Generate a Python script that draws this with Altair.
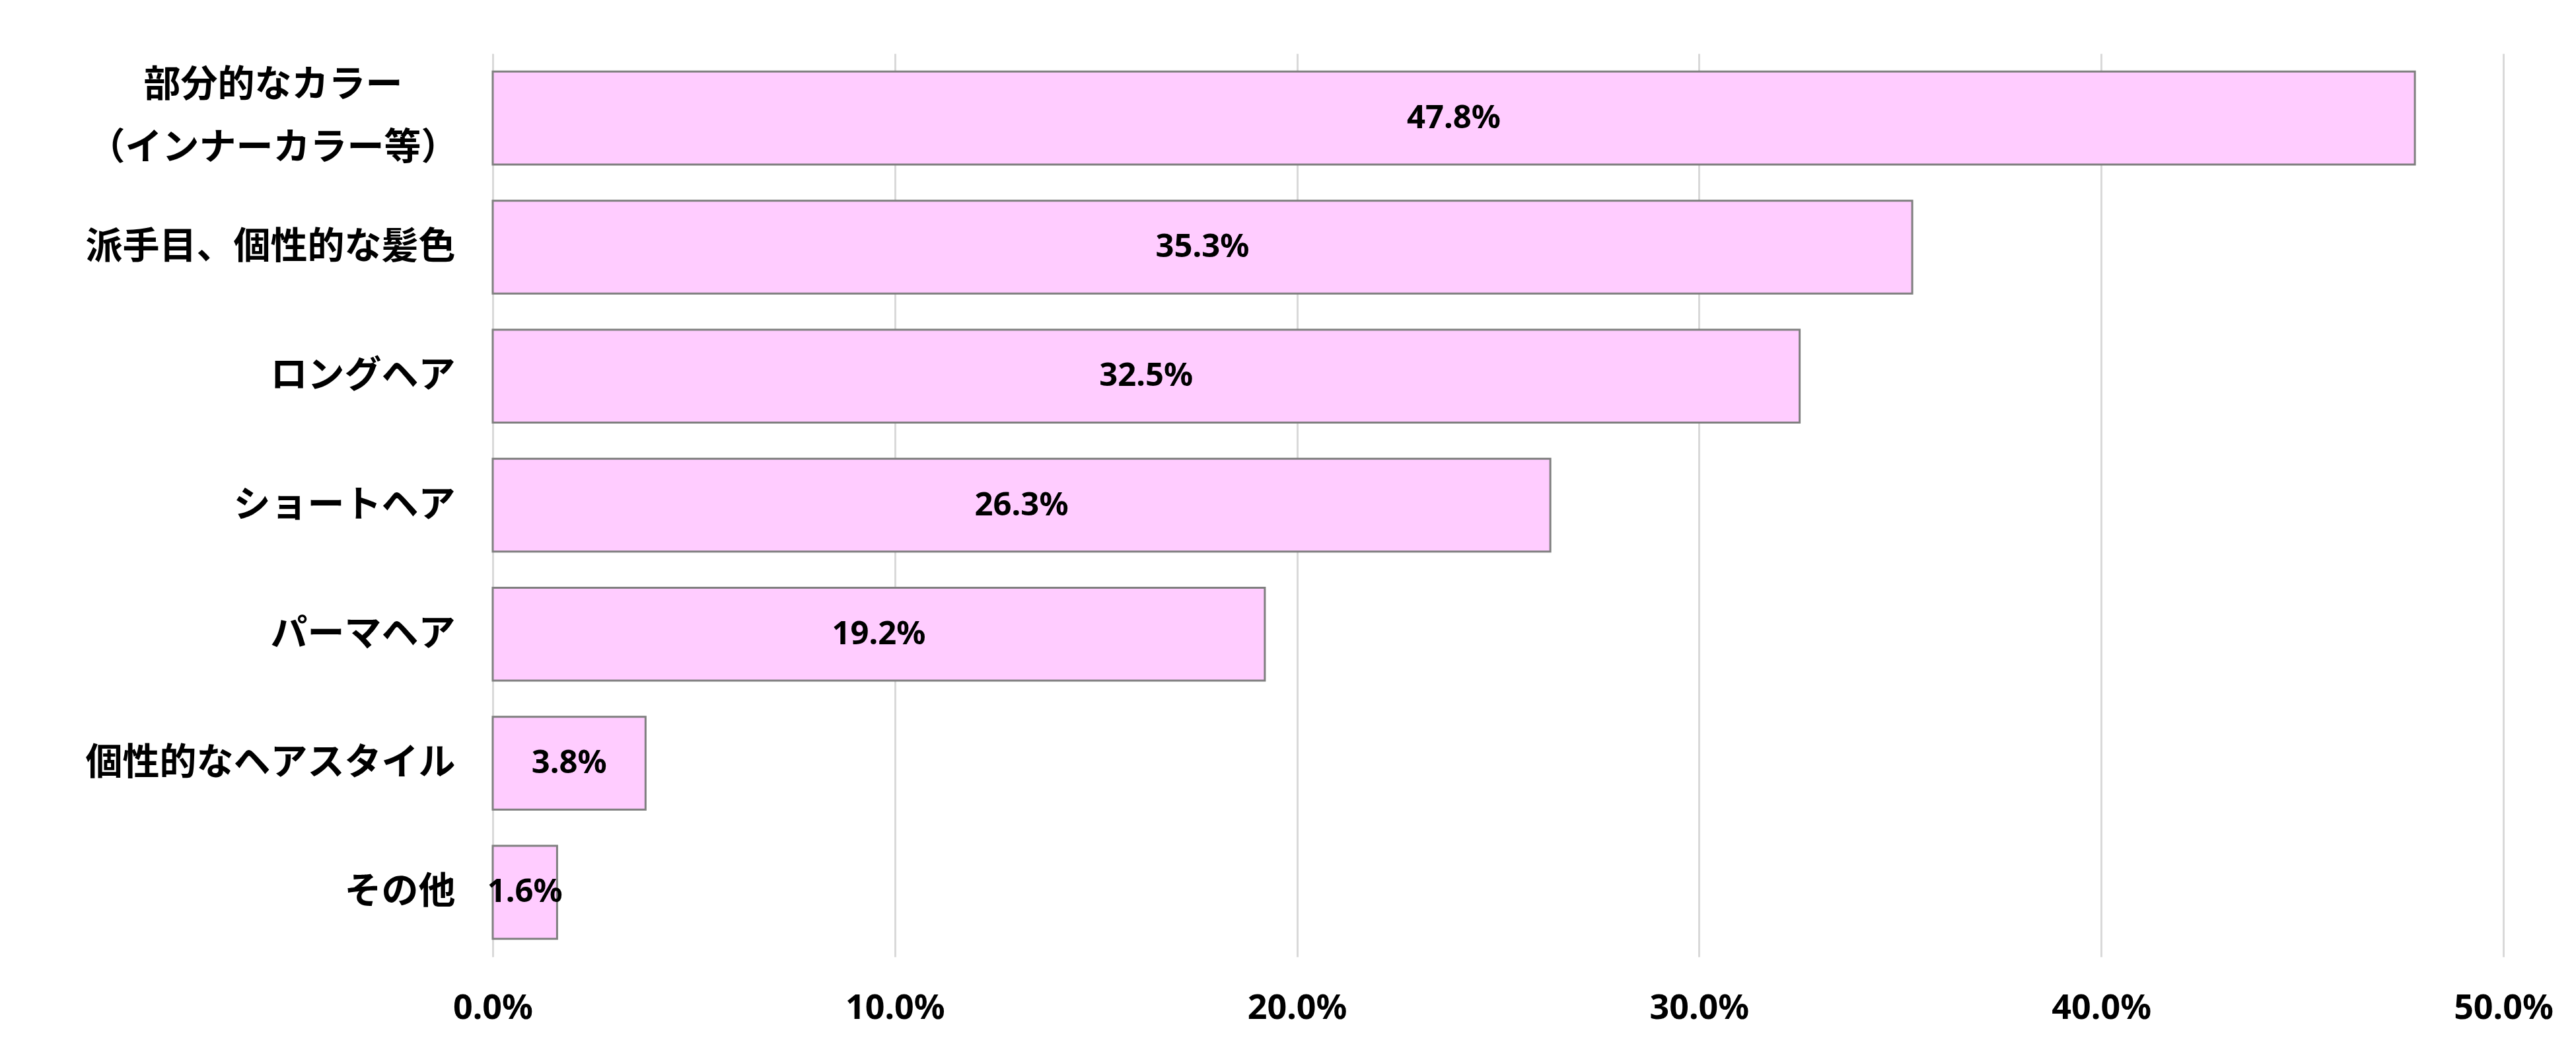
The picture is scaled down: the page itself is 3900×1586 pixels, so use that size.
import altair as alt
import pandas as pd

categories = [
    "部分的なカラー|（インナーカラー等）",
    "派手目、個性的な髪色",
    "ロングヘア",
    "ショートヘア",
    "パーマヘア",
    "個性的なヘアスタイル",
    "その他",
]
values = [0.478, 0.353, 0.325, 0.263, 0.192, 0.038, 0.016]
x_ticks = [0.0, 0.1, 0.2, 0.3, 0.4, 0.5]

df = pd.DataFrame({"cat": categories, "val": values})

W, H = 3044, 1367
multi = "indexof(datum.value, '|') >= 0"

base = alt.Chart(df).encode(
    y=alt.Y(
        "cat:N",
        sort=categories,
        scale=alt.Scale(paddingInner=0.28, paddingOuter=0.14),
        axis=alt.Axis(
            title=None,
            labelExpr="split(datum.label, '|')",
            labelFont="Noto Sans CJK JP",
            labelFontWeight="bold",
            labelFontSize=56,
            labelColor="#000000",
            labelLineHeight=95,
            labelPadding={"condition": {"test": multi, "value": 333}, "value": 57},
            labelAlign={"condition": {"test": multi, "value": "center"}, "value": "right"},
            labelOffset={"condition": {"test": multi, "value": -50}, "value": 0},
            labelBaseline="middle",
            ticks=False,
            domain=False,
            grid=False,
            labelLimit=2000,
        ),
    )
)

bars = base.mark_bar(
    color="#FFCCFF", stroke="#7F7F7F", strokeWidth=3
).encode(
    x=alt.X(
        "val:Q",
        scale=alt.Scale(domain=[0, 0.5], nice=False, zero=True),
        axis=alt.Axis(
            title=None,
            values=x_ticks,
            format=".1%",
            labelFont="Noto Sans",
            labelFontWeight="bold",
            labelFontSize=52,
            labelColor="#000000",
            labelPadding=52,
            ticks=False,
            domain=False,
            grid=True,
            gridColor="#D9D9D9",
            gridWidth=3,
            labelFlush=False,
        ),
    )
)

texts = base.transform_calculate(mid="datum.val / 2").mark_text(
    font="Noto Sans", fontWeight="bold", fontSize=49, color="#000000",
    align="center", baseline="middle",
).encode(
    x=alt.X("mid:Q"),
    text=alt.Text("val:Q", format=".1%"),
)

chart = (
    alt.layer(bars, texts)
    .properties(
        width=W,
        height=H,
        autosize=alt.AutoSizeParams(type="none"),
        padding={"left": 738, "top": 73, "right": 80, "bottom": 120},
        background="#FFFFFF",
    )
    .configure_view(stroke=None)
)

chart.save("out.html", embed_options={"renderer": "svg", "actions": False})
